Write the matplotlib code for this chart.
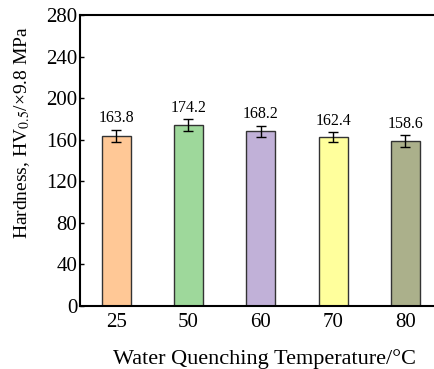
import matplotlib.pyplot as plt

temps = ['25', '50', '60', '70', '80']
hardness = [163.8, 174.2, 168.2, 162.4, 158.6]
errors = [6.0, 5.5, 5.5, 5.0, 5.5]
colors = ['#FFC896', '#9ED89B', '#C1B1D8', '#FFFF9C', '#ABB08B']

plt.rcParams['font.family'] = 'Liberation Serif'
plt.rcParams['mathtext.fontset'] = 'stix'

fig = plt.figure(figsize=(4.35, 3.69), dpi=100)
ax = fig.add_axes([0.184, 0.171, 0.816, 0.788])

x = range(len(temps))
ax.bar(x, hardness, width=0.4, color=colors, edgecolor='#333333', linewidth=1.0,
       yerr=errors, capsize=3.7, error_kw=dict(ecolor='black', elinewidth=1.0, capthick=1.0))

for i, (h, e) in enumerate(zip(hardness, errors)):
    ax.text(i, h + e + 3, f'{h:.1f}', ha='center', va='bottom', fontsize=11.5)

ax.set_xlim(-0.5, 4.41)
ax.set_ylim(0, 280)
ax.set_yticks(range(0, 281, 40))
ax.set_xticks(list(x))
ax.set_xticklabels(temps)
ax.tick_params(axis='y', direction='in', length=3, width=1, labelsize=15, pad=2)
ax.tick_params(axis='x', length=0, labelsize=15, pad=5)

for s in ['left', 'bottom', 'top']:
    ax.spines[s].set_linewidth(1.5)
ax.spines['right'].set_visible(False)

ax.set_xlabel('Water Quenching Temperature/°C', fontsize=16)
ax.xaxis.set_label_coords(0.52, -0.148)
ax.set_ylabel(r'Hardness, HV$_{0.5}$/×9.8 MPa', fontsize=14)
ax.yaxis.set_label_coords(-0.135, 0.595)

fig.savefig('out.png', dpi=100)
